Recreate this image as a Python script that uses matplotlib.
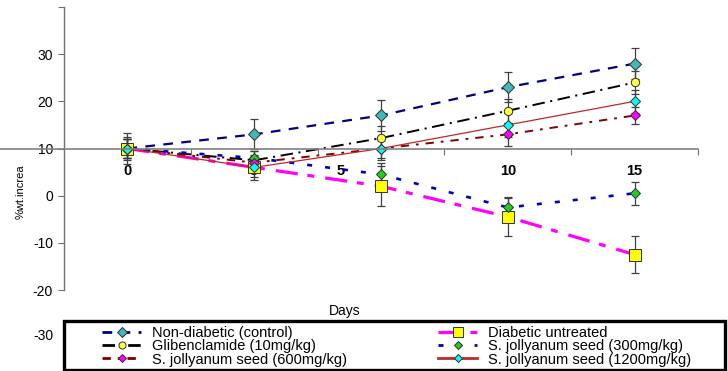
import matplotlib
matplotlib.use("Agg")
import matplotlib.pyplot as plt
from matplotlib.lines import Line2D
from matplotlib.patches import Rectangle
import matplotlib.transforms as mtransforms

plt.rcParams['font.family'] = ['Liberation Sans', 'DejaVu Sans']
plt.rcParams['lines.scale_dashes'] = False

# ---------------- data ----------------
days = ["0", "3", "5", "10", "15"]
day_label_pos = [0, 1, 1.68, 3, 4]

control = [10, 13, 17, 23, 28]
control_err = [3.2, 3.2, 3.3, 3.2, 3.3]

glib = [10, 7.5, 12.2, 18, 24]
glib_err = [2.5, 2.0, 2.5, 2.5, 2.5]

untreated = [10, 6, 2, -4.5, -12.5]
untreated_err = [2.0, 2.6, 4.2, 4.1, 3.9]

sj300 = [10, 8, 4.5, -2.5, 0.5]
sj300_err = [2.0, 1.5, 2.5, 2.3, 2.4]

sj600 = [10, 7, 10, 13, 17]
sj600_err = [2.0, 1.5, 2.0, 2.5, 1.7]

sj1200 = [10, 6, 10, 15, 20]
sj1200_err = [2.0, 2.0, 2.5, 2.5, 2.5]

series_labels = ["Non-diabetic (control)", "Glibenclamide (10mg/kg)",
                 "Diabetic untreated", "S. jollyanum seed (300mg/kg)",
                 "S. jollyanum seed (600mg/kg)", "S. jollyanum seed (1200mg/kg)"]
legend_order = [0, 1, 4, 2, 3, 5]

yticks = [-20, -10, 0, 10, 20, 30, 40]
yticklabels = ["-20", "-10", "0", "10", "20", "30", ""]

# ---------------- figure ----------------
W, H = 728, 371
fig = plt.figure(figsize=(W / 100, H / 100), dpi=100)
ax = fig.add_axes([64 / W, 1 - 290 / H, 634 / W, 283 / H])

x = list(range(len(days)))

series = [
    # values, err, color, lw, dashes, marker, mfc, ms
    (control, control_err, '#000080', 1.6, (7, 6), 'D', '#3FB8B8', 6.5),
    (glib, glib_err, '#000000', 1.4, (9, 4, 1.5, 4), 'o', '#FFFF40', 6),
    (untreated, untreated_err, '#FF00FF', 2.3, (16, 7, 5, 8), 's', '#FFFF00', 8),
    (sj300, sj300_err, '#0000C0', 1.9, (3.6, 9.4), 'D', '#22CC22', 5),
    (sj600, sj600_err, '#800000', 1.4, (6, 5, 2, 5), 'D', '#FF00FF', 5),
    (sj1200, sj1200_err, '#C02828', 0.9, None, 'D', '#00FFFF', 5),
]

# error bars first
for vals, err, col, lw, dsh, mk, mfc, ms in series:
    ax.errorbar(x, vals, yerr=err, fmt='none', ecolor='#404040',
                elinewidth=0.9, capsize=2.6, capthick=0.9, zorder=2)

for vals, err, col, lw, dsh, mk, mfc, ms in series:
    ln, = ax.plot(x, vals, color=col, lw=lw, zorder=3)
    if dsh is not None:
        ln.set_dashes(dsh)
    ax.plot(x, vals, linestyle='none', marker=mk, markersize=ms,
            markerfacecolor=mfc, markeredgecolor='#303030',
            markeredgewidth=0.7, zorder=4)

ax.set_xlim(-0.5, 4.5)
ax.set_ylim(-20, 40)

for s in ['top', 'right', 'bottom']:
    ax.spines[s].set_visible(False)
ax.spines['left'].set_color('#707070')
ax.spines['left'].set_linewidth(1.0)
ax.spines['bottom'].set_position(('data', 10))

ax.set_yticks(yticks)
ax.set_yticklabels(yticklabels, fontsize=10)
ax.tick_params(axis='y', direction='out', length=4, width=0.8,
               color='#707070', pad=4)

ax.set_xticks(day_label_pos)
ax.set_xticklabels(days, fontsize=10.5, fontweight='bold')
ax.set_xticks([0.5, 1.5, 2.5, 3.5, 4.5], minor=True)
ax.tick_params(axis='x', which='major', length=0, pad=11)
ax.tick_params(axis='x', which='minor', direction='out', length=4,
               width=0.8, color='#707070')

# horizontal axis line at y=10 extending to left edge of figure
trans = mtransforms.blended_transform_factory(fig.transFigure, ax.transData)
fig.add_artist(Line2D([0, 698 / W], [10, 10], transform=trans,
                      color='#808080', lw=1.2, zorder=1))

# labels
fig.text(345 / W, 1 - 311 / H, "Days", ha='center', va='center', fontsize=10)
fig.text(21 / W, 1 - 192 / H, "%wt.increa", ha='center', va='center',
         rotation=90, fontsize=8)
fig.text(54 / W, 1 - 336 / H, "-30", ha='right', va='center', fontsize=10)

# legend frame
fig.add_artist(Rectangle((64 / W, 1 - 370 / H), (725 - 64) / W, (370 - 321) / H,
                         transform=fig.transFigure, fill=False,
                         edgecolor='black', lw=2.4, zorder=5))

handles = []
for vals, err, col, lw, dsh, mk, mfc, ms in series:
    h = Line2D([], [], color=col, lw=max(lw, 2.0), marker=mk,
               markersize=ms * 0.85, markerfacecolor=mfc,
               markeredgecolor='#303030', markeredgewidth=0.7)
    if dsh is not None:
        h.set_dashes(dsh)
    handles.append(h)

hs = [handles[i] for i in legend_order]
ls = [series_labels[i] for i in legend_order]

leg_kw = dict(frameon=False, fontsize=10.5, handlelength=2.7,
              handletextpad=0.7, labelspacing=-0.05, borderpad=0,
              borderaxespad=0, loc='upper left')
leg1 = fig.legend(hs[:3], ls[:3],
                  bbox_to_anchor=(102 / W, 1 - 326 / H), **leg_kw)
leg2 = fig.legend(hs[3:], ls[3:],
                  bbox_to_anchor=(438 / W, 1 - 326 / H), **leg_kw)

fig.savefig("out.png", dpi=100)
